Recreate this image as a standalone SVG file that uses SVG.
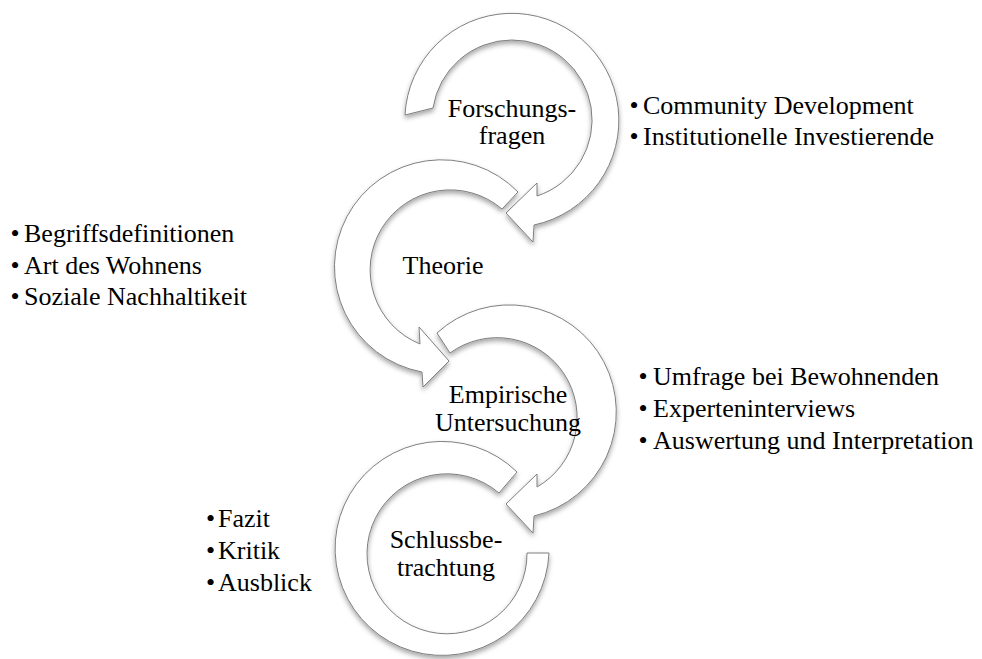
<svg xmlns="http://www.w3.org/2000/svg" width="982" height="659" viewBox="0 0 982 659">
<defs>
<filter id="sh" x="-20%" y="-20%" width="140%" height="140%">
<feDropShadow dx="0" dy="3" stdDeviation="2.5" flood-color="#000" flood-opacity="0.35"/>
</filter>
</defs>
<style>
.arc{fill:#fff;stroke:#7f7f7f;stroke-width:1;filter:url(#sh)}
.lbl{font-family:"Liberation Serif","Times New Roman",serif;font-size:26px;fill:#000;text-anchor:middle}
.li{font-family:"Liberation Serif","Times New Roman",serif;font-size:26px;fill:#000}
.bu{font-family:"Liberation Serif","Times New Roman",serif;font-size:26px;fill:#000;text-anchor:middle}
</style>
<rect width="982" height="659" fill="#fff"/>

<g id="node-forschungsfragen">
<path class="arc" d="M405,115 A107,107 0 1 1 534,225 L533,242 L506,213 L537,183 L537,196 A80,80 0 1 0 433,108 Z"/>
<text class="lbl" x="512" y="117">Forschungs-</text>
<text class="lbl" x="512" y="144">fragen</text>
</g>

<g id="node-theorie">
<path class="arc" d="M518,192 A107,107 0 1 0 422,372 L423,387 L449,361 L419,327 L420,344 A80,80 0 1 1 502,209 Z"/>
<text class="lbl" x="443" y="274">Theorie</text>
</g>

<g id="node-empirische">
<path class="arc" d="M437,333 A107,107 0 1 1 534,516 L533,533 L506,504 L537,474 L537,487 A80,80 0 1 0 450,353 Z"/>
<text class="lbl" x="508" y="403">Empirische</text>
<text class="lbl" x="508" y="431">Untersuchung</text>
</g>

<g id="node-schluss">
<path class="arc" d="M517,472 A107,107 0 1 0 549,553 L527,553 A80,80 0 1 1 499,493 Z"/>
<text class="lbl" x="446" y="548">Schlussbe-</text>
<text class="lbl" x="446" y="576">trachtung</text>
</g>

<g id="list-forschungsfragen">
<text class="bu" x="634" y="114">•</text><text class="li" x="643" y="114">Community Development</text>
<text class="bu" x="634" y="145">•</text><text class="li" x="643" y="145">Institutionelle Investierende</text>
</g>

<g id="list-theorie">
<text class="bu" x="15" y="242">•</text><text class="li" x="24" y="242">Begriffsdefinitionen</text>
<text class="bu" x="15" y="273.5">•</text><text class="li" x="24" y="273.5">Art des Wohnens</text>
<text class="bu" x="15" y="305">•</text><text class="li" x="24" y="305">Soziale Nachhaltikeit</text>
</g>

<g id="list-empirische">
<text class="bu" x="643" y="385">•</text><text class="li" x="653" y="385">Umfrage bei Bewohnenden</text>
<text class="bu" x="643" y="417">•</text><text class="li" x="653" y="417">Experteninterviews</text>
<text class="bu" x="643" y="449">•</text><text class="li" x="653" y="449">Auswertung und Interpretation</text>
</g>

<g id="list-schluss">
<text class="bu" x="210.5" y="527">•</text><text class="li" x="218" y="527">Fazit</text>
<text class="bu" x="210.5" y="559">•</text><text class="li" x="218" y="559">Kritik</text>
<text class="bu" x="210.5" y="591">•</text><text class="li" x="218" y="591">Ausblick</text>
</g>
</svg>
